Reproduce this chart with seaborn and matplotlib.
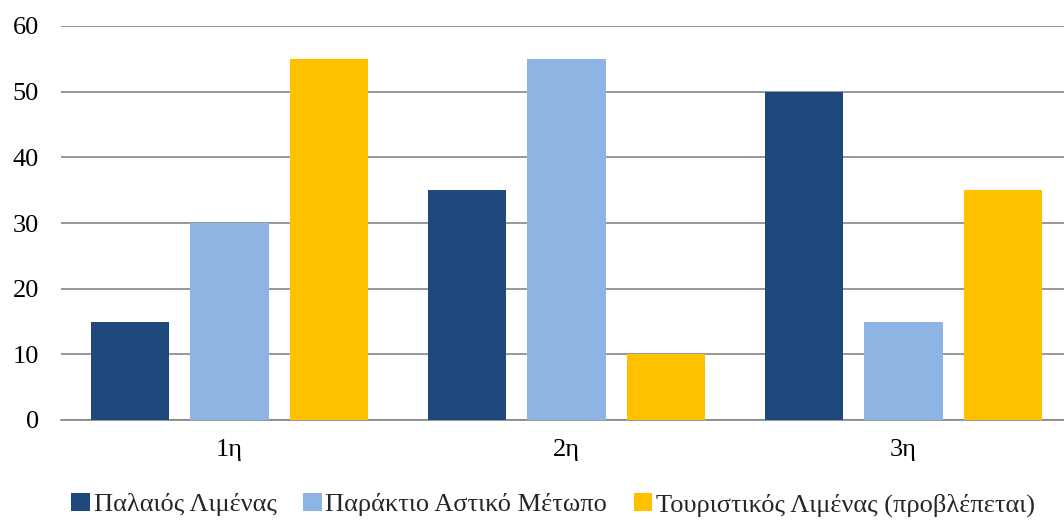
import matplotlib
matplotlib.use("Agg")
import matplotlib.pyplot as plt
from matplotlib.patches import Patch
import pandas as pd
import seaborn as sns

categories = ["1η", "2η", "3η"]
series_names = ["Παλαιός Λιμένας", "Παράκτιο Αστικό Μέτωπο", "Τουριστικός Λιμένας (προβλέπεται)"]
paleos = [15, 35, 50]
paraktio = [30, 55, 15]
touristikos = [55, 10, 35]
y_ticks = [0, 10, 20, 30, 40, 50, 60]
colors = ["#1F497D", "#8EB4E3", "#FFC000"]

rows = []
for name, vals in zip(series_names, [paleos, paraktio, touristikos]):
    for cat, v in zip(categories, vals):
        rows.append({"cat": cat, "series": name, "value": v})
df = pd.DataFrame(rows)

sns.set_theme(style="white")
plt.rcParams["font.family"] = ["Liberation Serif", "DejaVu Serif"]

fig = plt.figure(figsize=(10.64, 5.2), dpi=100)
ax = fig.add_axes([61 / 1064, 1 - 420 / 520, (1072 - 61) / 1064, (420 - 26) / 520])

sns.barplot(data=df, x="cat", y="value", hue="series", order=categories,
            hue_order=series_names, palette=colors, width=0.886, gap=0.207,
            saturation=1, legend=False, ax=ax, zorder=3, linewidth=0,
            edgecolor="none")

ax.set_xlim(-0.5, 2.5)
ax.set_ylim(0, 60)
ax.set_yticks(y_ticks)
ax.yaxis.grid(True, color="#868686", linewidth=1.2, zorder=0)
ax.set_axisbelow(True)
for side in ["left", "right", "top"]:
    ax.spines[side].set_visible(False)
ax.spines["bottom"].set_color("#868686")
ax.spines["bottom"].set_linewidth(1.2)
ax.tick_params(axis="y", length=0, pad=16, labelsize=19, labelcolor="black")
ax.tick_params(axis="x", length=0, pad=14, labelsize=19, labelcolor="black")
ax.set_xlabel("")
ax.set_ylabel("")

handles = [Patch(facecolor=c, edgecolor="none") for c in colors]
fig.legend(handles, series_names, loc="center", bbox_to_anchor=(0.52, 0.029),
           ncol=3, frameon=False, fontsize=19, handlelength=0.7, handleheight=0.7,
           handletextpad=0.15, columnspacing=1.0, borderaxespad=0)

fig.savefig("out.png", dpi=100)
